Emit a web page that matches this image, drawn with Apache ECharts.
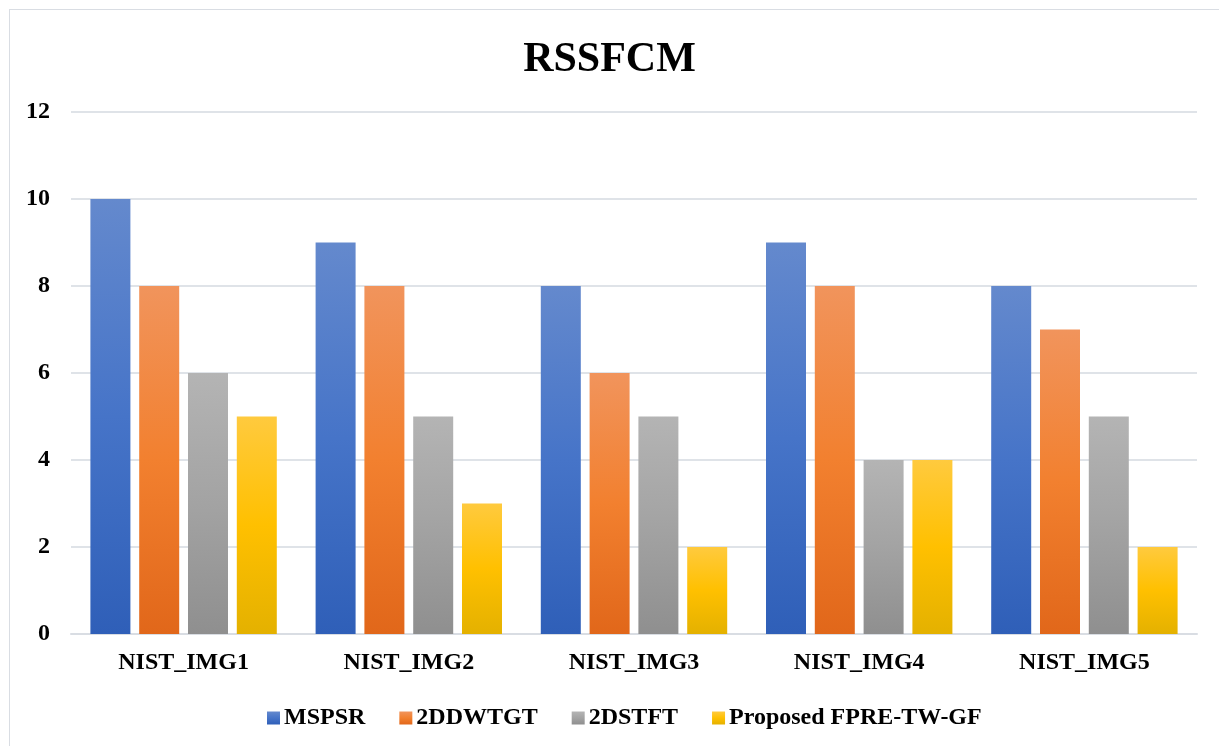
<!DOCTYPE html>
<html>
<head>
<meta charset="utf-8">
<script src="https://cdn.jsdelivr.net/npm/echarts@6/dist/echarts.min.js"></script>
<style>
  html, body { margin: 0; padding: 0; background: #fff; }
  #frame { position: absolute; left: 9px; top: 9px; width: 1216px; height: 745px; border: 1px solid #d9dde3; box-sizing: border-box; }
  #chart { position: absolute; left: 0; top: 0; width: 1219px; height: 746px; }
</style>
</head>
<body>
<div id="frame"></div>
<div id="chart"></div>
<script>
const categories = ['NIST_IMG1', 'NIST_IMG2', 'NIST_IMG3', 'NIST_IMG4', 'NIST_IMG5'];
const seriesNames = ['MSPSR', '2DDWTGT', '2DSTFT', 'Proposed FPRE-TW-GF'];
const mspsr = [10, 9, 8, 9, 8];
const ddwtgt = [8, 8, 6, 8, 7];
const dstft = [6, 5, 5, 4, 5];
const proposed = [5, 3, 2, 4, 2];
const yTicks = [0, 2, 4, 6, 8, 10, 12];

const font = '"Liberation Serif", "Times New Roman", serif';

// top / middle / bottom colour stops per series
const palettes = [
  ['#6489cd', '#4674c8', '#2f5fb8'],
  ['#f1945c', '#f2802f', '#e1671a'],
  ['#b4b4b4', '#a3a3a3', '#8f8f8f'],
  ['#ffca3e', '#ffc000', '#e4b100']
];
const values = [mspsr, ddwtgt, dstft, proposed];

function grad(p) {
  return new echarts.graphic.LinearGradient(0, 0, 0, 1, [
    { offset: 0, color: p[0] },
    { offset: 0.5, color: p[1] },
    { offset: 1, color: p[2] }
  ]);
}

const chart = echarts.init(document.getElementById('chart'), null, { renderer: 'canvas' });
chart.setOption({
  animation: false,
  backgroundColor: 'transparent',
  title: {
    text: 'RSSFCM',
    left: 'center',
    top: 34,
    textStyle: { fontFamily: font, fontWeight: 'bold', fontSize: 42, color: '#000' }
  },
  legend: {
    top: 701,
    left: 262,
    itemWidth: 13,
    itemHeight: 13,
    itemGap: 34,
    icon: 'rect',
    textStyle: { fontFamily: font, fontWeight: 'bold', fontSize: 24, color: '#000', padding: [0, 0, 0, -1] },
    data: seriesNames.map((n, i) => ({ name: n, itemStyle: { color: grad(palettes[i]) } }))
  },
  grid: { left: 71, right: 22, top: 112, bottom: 112 },
  xAxis: {
    type: 'category',
    data: categories,
    axisLine: { lineStyle: { color: '#d9dde3', width: 2 } },
    axisTick: { show: false },
    axisLabel: { fontFamily: font, fontWeight: 'bold', fontSize: 24, color: '#000', margin: 17 }
  },
  yAxis: {
    type: 'value',
    min: yTicks[0],
    max: yTicks[yTicks.length - 1],
    interval: 2,
    axisLine: { show: false },
    axisTick: { show: false },
    splitLine: { lineStyle: { color: '#dfe3e8', width: 2 } },
    axisLabel: { fontFamily: font, fontWeight: 'bold', fontSize: 24, color: '#000', margin: 21 }
  },
  series: seriesNames.map((n, i) => ({
    name: n,
    type: 'bar',
    data: values[i],
    barWidth: 40,
    barGap: '22%',
    itemStyle: { color: grad(palettes[i]) }
  }))
});
</script>
</body>
</html>
